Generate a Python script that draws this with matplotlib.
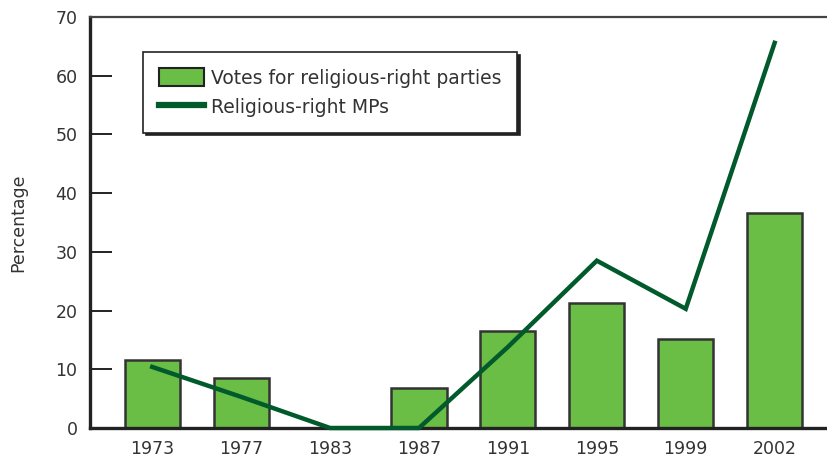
import numpy as np
import matplotlib.pyplot as plt
from matplotlib.patches import Patch
from matplotlib.lines import Line2D

# election years and values
years = ['1973', '1977', '1983', '1987', '1991', '1995', '1999', '2002']
votes = [11.6, 8.5, 0.0, 6.8, 16.5, 21.3, 15.2, 36.6]
mps = [10.4, 5.3, 0.0, 0.0, 13.8, 28.5, 20.3, 65.6]

bar_green = '#6abd45'
line_green = '#005a2c'
ink = '#222222'

plt.rcParams['font.family'] = ['DejaVu Sans']

fig = plt.figure(figsize=(8.28, 4.61), dpi=100)
ax = fig.add_axes([0.1087, 0.0716, 0.8913, 0.8915])

x = np.arange(len(years))
# 1983 has no bar in the reference
bar_x = [xi for xi, v in zip(x, votes) if v > 0]
bar_v = [v for v in votes if v > 0]
ax.bar(bar_x, bar_v, width=0.62, color=bar_green, edgecolor='#333333', linewidth=1.8, zorder=2)
ax.plot(x, mps, color=line_green, linewidth=3.2, solid_joinstyle='miter', zorder=4, clip_on=False)

ax.set_xlim(-0.70, 7.6)
ax.set_ylim(0, 70)
ax.set_xticks(x)
ax.set_xticklabels(years)
ax.set_yticks(np.arange(0, 71, 10))

for side in ['left', 'bottom']:
    ax.spines[side].set_linewidth(2.4)
    ax.spines[side].set_color(ink)
ax.spines['top'].set_linewidth(1.6)
ax.spines['top'].set_color('#444444')
ax.spines['right'].set_visible(False)

ax.tick_params(axis='y', direction='in', length=16, width=1.4, color=ink,
               labelsize=12.5, labelcolor='#333333', pad=9)
ax.tick_params(axis='x', length=0, labelsize=12.5, labelcolor='#333333', pad=9)

ax.set_ylabel('Percentage', fontsize=12.5, color='#333333', labelpad=20)

handles = [Patch(facecolor=bar_green, edgecolor=ink, linewidth=1.5),
           Line2D([0], [0], color=line_green, linewidth=4.5)]
labels = ['Votes for religious-right parties', 'Religious-right MPs']
leg = ax.legend(handles, labels, loc='upper left', bbox_to_anchor=(0.072, 0.915),
                borderaxespad=0, fontsize=13.5, fancybox=False, frameon=True,
                handlelength=2.4, handleheight=1.15, handletextpad=0.35,
                labelspacing=0.5, borderpad=0.85,
                shadow={'color': ink, 'alpha': 1, 'ox': 2, 'oy': -2})
leg.get_frame().set_edgecolor(ink)
leg.get_frame().set_linewidth(1.2)
for t in leg.get_texts():
    t.set_color('#333333')

fig.savefig('out.png', dpi=100)
